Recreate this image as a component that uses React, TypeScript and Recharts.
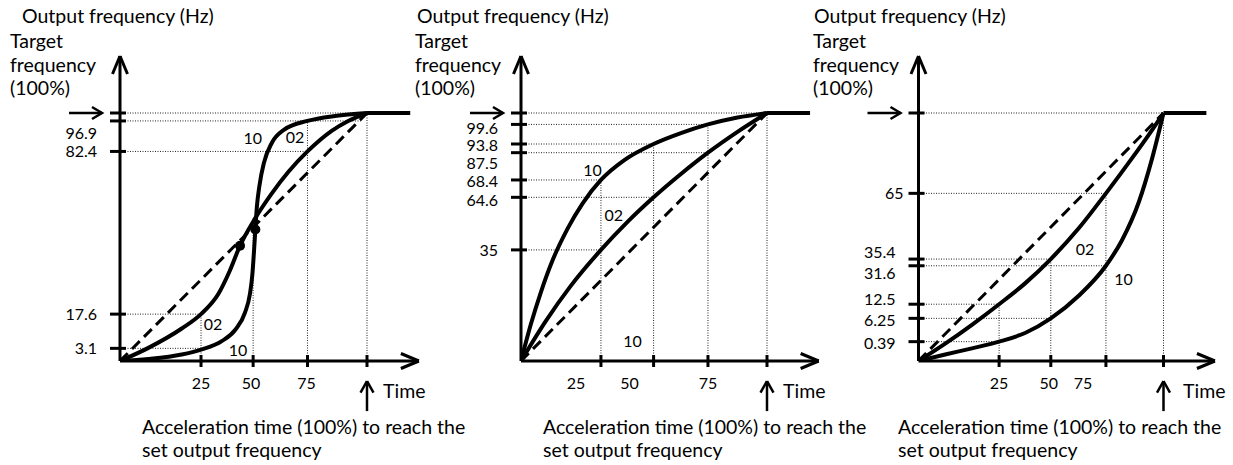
import { LineChart, Line, XAxis, YAxis, ReferenceLine, ReferenceDot } from "recharts"

// The original is a schematic: values below are the drawn positions in % of
// the acceleration time (x) and % of the target frequency (y). The tick labels
// carry the real figures.

// shared
const timeTickLabels = ["25", "50", "75", ""]
const linearTime = [0, 100]
const linearFreq = [0, 100]
const holdTime = [100, 117.5]
const holdFreq = [100, 100]

// left: S-curve
const sTime02 = [0, 11.5, 25, 32.8, 39.8, 44.5, 48.6, 54.7, 61.4, 68.2, 75.9, 85.7, 92.4, 100]
const sFreq02 = [0, 5.3, 13.1, 18.9, 27, 36.5, 46.5, 57.5, 67.5, 76.3, 84.5, 92.8, 96.8, 100]
const sTime10 = [0, 11.5, 25, 32.8, 41.2, 46.6, 50.6, 52.6, 53.6, 54.3, 54.8, 55.4, 56.5, 58.3, 61.5, 66.5, 75.9, 87, 100]
const sFreq10 = [0, 0.8, 2.6, 4.6, 8, 12.5, 19.5, 27, 35, 45, 53, 62, 71, 80, 88, 93.3, 96.8, 98.8, 100]
const sTimeTicks = [32.8, 53.9, 75.9, 100]
const sFreqTicks = [5.1, 18.9, 84.5, 96.8, 100]
const sFreqLabels = ["3.1", "17.6", "82.4", "96.9", ""]

// middle: fast start
const cTime10 = [0, 4, 8, 13, 19, 25, 32.5, 42, 53.9, 65, 76, 88, 100]
const cFreq10 = [0, 14.8, 27.5, 41, 53.5, 63.5, 73, 81, 87.5, 91.9, 95.4, 98.2, 100]
const cTime02 = [0, 10, 20, 32.5, 43, 53.9, 65, 76, 88, 100]
const cFreq02 = [0, 16, 30, 44.8, 55.8, 66, 75.4, 84, 92.4, 100]
const cTimeTicks = [32.5, 53.9, 76, 100]
const cFreqTicks = [44.8, 66, 73, 84, 87.5, 95.4, 100]
const cFreqLabels = ["35", "64.6", "68.4", "87.5", "93.8", "99.6", ""]

// right: slow start
const vTime02 = [0, 10.9, 21.8, 32.9, 43.5, 54, 65.4, 76.5, 87.1, 93.9, 100]
const vFreq02 = [0, 7, 14.6, 22.9, 31.3, 41.1, 53.5, 67.6, 81.7, 91.1, 100]
const vTime10 = [0, 10.9, 21.8, 32.9, 43.5, 54, 65.4, 76.5, 83, 89.9, 95.3, 100]
const vFreq10 = [0, 2.6, 5.1, 7.8, 11.3, 17.2, 26.3, 38.4, 48.6, 64, 81.5, 100]
const vTimeTicks = [32.9, 54, 76.5, 100]
const vFreqTicks = [7.8, 17.2, 22.9, 38.4, 41.1, 67.6, 100]
const vFreqLabels = ["0.39", "6.25", "12.5", "31.6", "35.4", "65", ""]

const AXIS_Y = 361
const K_Y = 2.48
const Y_MAX = 123
const X_MAX = 121
const FONT = "Lato, 'Open Sans', sans-serif"
const TICK_FS = 16
const NAME_FS = 16

const pts = (xs: number[], ys: number[]) => xs.map((x, i) => ({ x, y: ys[i] }))

const panels = [
  {
    left: 0, ox: 120, x100: 367,
    t02: sTime02, f02: sFreq02, t10: sTime10, f10: sFreq10,
    xTicks: sTimeTicks, xNudge: [0, -2, -1, 0],
    yTicks: sFreqTicks, yLabels: sFreqLabels, yNudge: [0, 0, 0, 12, 0], yGap: [23, 23, 23, 23, 23],
    hGuides: [[100, 100], [96.8, 98], [84.5, 75.9], [18.9, 32.8], [5.1, 32.8]],
    vGuides: [[32.8, 18.9], [53.9, 53], [75.9, 96.8], [100, 100]],
    dots: [[48.6, 46.5], [54.8, 53]],
    names: [[53.8, 89.9, "10"], [70.9, 90.3, "02"], [37.7, 14.9, "02"], [47.8, 4.4, "10"]],
  },
  {
    left: 410, ox: 521, x100: 767,
    t02: cTime02, f02: cFreq02, t10: cTime10, f10: cFreq10,
    xTicks: cTimeTicks, xNudge: [-25, -24, 0, 0],
    yTicks: cFreqTicks, yLabels: cFreqLabels, yNudge: [0, 2.6, 1, 10.8, 1.2, 4, 0], yGap: [23, 23, 23, 23, 23, 23, 23],
    hGuides: [[100, 100], [95.4, 76], [87.5, 53.9], [84, 76], [73, 32.5], [66, 53.9], [44.8, 32.5]],
    vGuides: [[32.5, 73], [53.9, 87.5], [76, 95.4], [100, 100]],
    dots: [],
    names: [[29.1, 77, "10"], [37.7, 58.9, "02"], [45.3, 8.1, "10"]],
  },
  {
    left: 810, ox: 918.5, x100: 1163.5,
    t02: vTime02, f02: vFreq02, t10: vTime10, f10: vFreq10,
    xTicks: vTimeTicks, xNudge: [0, -2, -23, 0],
    yTicks: vFreqTicks, yLabels: vFreqLabels, yNudge: [1.6, 1.6, -5.3, 7, -7.3, 0, 0], yGap: [23, 23, 23, 23, 23, 15, 23],
    hGuides: [[100, 100], [67.6, 76.5], [41.1, 54], [38.4, 76.5], [22.9, 32.9], [17.2, 54], [7.8, 32.9]],
    vGuides: [[32.9, 22.9], [54, 41.1], [76.5, 67.6], [100, 100]],
    dots: [],
    names: [[68, 45.2, "02"], [83.7, 33.1, "10"]],
  },
]

type Cfg = (typeof panels)[number]

function Panel({ cfg }: { cfg: Cfg }) {
  const kx = (cfg.x100 - cfg.ox) / 100
  const plotTop = AXIS_Y - Y_MAX * K_Y
  const plotRight = cfg.ox + X_MAX * kx
  const width = Math.ceil(plotRight - cfg.left + 14)
  const ax = cfg.ox - cfg.left

  const YTick = (props: any) => {
    const { y, payload } = props
    const i = cfg.yTicks.indexOf(payload.value)
    const label = cfg.yLabels[i]
    return (
      <g>
        <line x1={ax - 10} x2={ax + 6} y1={y} y2={y} stroke="#000" strokeWidth={3} />
        {label ? (
          <text x={ax - cfg.yGap[i]} y={y + (cfg.yNudge[i] || 0)} dy="0.36em" textAnchor="end"
            fontFamily={FONT} fontSize={TICK_FS} fill="#000">{label}</text>
        ) : (
          <g stroke="#000" strokeWidth={2.5} fill="none">
            <line x1={ax - 51} x2={ax - 18} y1={y} y2={y} />
            <polyline points={`${ax - 28},${y - 6} ${ax - 18},${y} ${ax - 28},${y + 6}`} />
          </g>
        )}
      </g>
    )
  }

  const XTick = (props: any) => {
    const { x, payload } = props
    const i = cfg.xTicks.indexOf(payload.value)
    return (
      <g>
        <line x1={x} x2={x} y1={AXIS_Y - 6} y2={AXIS_Y + 6} stroke="#000" strokeWidth={3} />
        <text x={x + (cfg.xNudge[i] || 0)} y={AXIS_Y + 22} dy="0.36em" textAnchor="middle"
          fontFamily={FONT} fontSize={TICK_FS} fill="#000">{timeTickLabels[i]}</text>
      </g>
    )
  }

  const seg = (x1: number, y1: number, x2: number, y2: number, w = 3, key?: string) => (
    <ReferenceLine key={key} segment={[{ x: x1, y: y1 }, { x: x2, y: y2 }]} stroke="#000"
      strokeWidth={w} ifOverflow="visible" />
  )
  const ahx = 18 / kx, ahy = 7.5 / K_Y

  return (
    <div style={{ position: "absolute", left: cfg.left, top: 0 }}>
      <LineChart width={width} height={465}
        margin={{ top: plotTop, right: width - (plotRight - cfg.left), left: 0, bottom: 0 }}>
        <XAxis type="number" dataKey="x" domain={[0, X_MAX]} ticks={cfg.xTicks} interval={0}
          height={465 - AXIS_Y} axisLine={{ stroke: "#000", strokeWidth: 3 }} tickLine={false}
          tickSize={0} tickMargin={0} tick={<XTick />} allowDataOverflow />
        <YAxis type="number" domain={[0, Y_MAX]} ticks={cfg.yTicks} interval={0} width={ax}
          axisLine={{ stroke: "#000", strokeWidth: 3 }} tickLine={false} tickSize={0}
          tickMargin={0} tick={<YTick />} allowDataOverflow />
        {cfg.hGuides.map(([y, to], i) => (
          <ReferenceLine key={"h" + i} segment={[{ x: 0, y }, { x: to, y }]} stroke="#222"
            strokeWidth={1} strokeDasharray="1 1.5" ifOverflow="visible" />
        ))}
        {cfg.vGuides.map(([x, to], i) => (
          <ReferenceLine key={"v" + i} segment={[{ x, y: 0 }, { x, y: to }]} stroke="#222"
            strokeWidth={1} strokeDasharray="1 1.5" ifOverflow="visible" />
        ))}
        <Line data={pts(linearTime, linearFreq)} dataKey="y" type="linear" stroke="#000"
          strokeWidth={3} strokeDasharray="11 6" dot={false} isAnimationActive={false} />
        <Line data={pts(cfg.t02, cfg.f02)} dataKey="y" type="monotone" stroke="#000"
          strokeWidth={4} dot={false} isAnimationActive={false} />
        <Line data={pts(cfg.t10, cfg.f10)} dataKey="y" type="monotone" stroke="#000"
          strokeWidth={4} dot={false} isAnimationActive={false} />
        <Line data={pts(holdTime, holdFreq)} dataKey="y" type="linear" stroke="#000"
          strokeWidth={4} dot={false} isAnimationActive={false} />
        {cfg.dots.map(([x, y], i) => (
          <ReferenceDot key={"d" + i} x={x} y={y} r={5} fill="#000" stroke="none" ifOverflow="visible" />
        ))}
        {cfg.names.map(([x, y, t], i) => (
          <ReferenceDot key={"n" + i} x={x as number} y={y as number} r={1} ifOverflow="visible"
            shape={(p: any) => (
              <text x={p.cx} y={p.cy} dy="0.36em" textAnchor="middle" fontFamily={FONT}
                fontSize={NAME_FS} fill="#000">{t}</text>
            )} />
        ))}
        {seg(0, Y_MAX, -7.5 / kx, Y_MAX - 18 / K_Y, 3, "ya1")}
        {seg(0, Y_MAX, 7.5 / kx, Y_MAX - 18 / K_Y, 3, "ya2")}
        {seg(X_MAX, 0, X_MAX - ahx, ahy, 3, "xa1")}
        {seg(X_MAX, 0, X_MAX - ahx, -ahy, 3, "xa2")}
        {seg(100, -20.2, 100, -8.1, 2.5, "ta0")}
        {seg(100, -8.1, 100 - 6.5 / kx, -8.1 - 11.5 / K_Y, 2.5, "ta1")}
        {seg(100, -8.1, 100 + 6.5 / kx, -8.1 - 11.5 / K_Y, 2.5, "ta2")}
      </LineChart>
    </div>
  )
}

const textStyle = { fontFamily: FONT, fontSize: 19.5, fill: "#000" }

export default function App() {
  const heads = [[22, 10], [417, 415], [814, 813]]
  const foots = [[142, 383], [543, 783], [898, 1183]]
  return (
    <div style={{ position: "absolute", left: 0, top: 0, width: 1233, height: 465, background: "#fff", overflow: "hidden" }}>
      {panels.map((p, i) => <Panel key={i} cfg={p} />)}
      <svg width={1233} height={465} style={{ position: "absolute", left: 0, top: 0, pointerEvents: "none" }}>
        {heads.map(([a, b], i) => (
          <g key={"h" + i} {...textStyle}>
            <text x={a} y={23}>Output frequency (Hz)</text>
            <text x={b} y={48}>Target</text>
            <text x={b} y={72}>frequency</text>
            <text x={b} y={95}>(100%)</text>
          </g>
        ))}
        {foots.map(([a, b], i) => (
          <g key={"f" + i} {...textStyle}>
            <text x={b} y={398}>Time</text>
            <text x={a} y={434}>Acceleration time (100%) to reach the</text>
            <text x={a} y={457}>set output frequency</text>
          </g>
        ))}
      </svg>
    </div>
  )
}
